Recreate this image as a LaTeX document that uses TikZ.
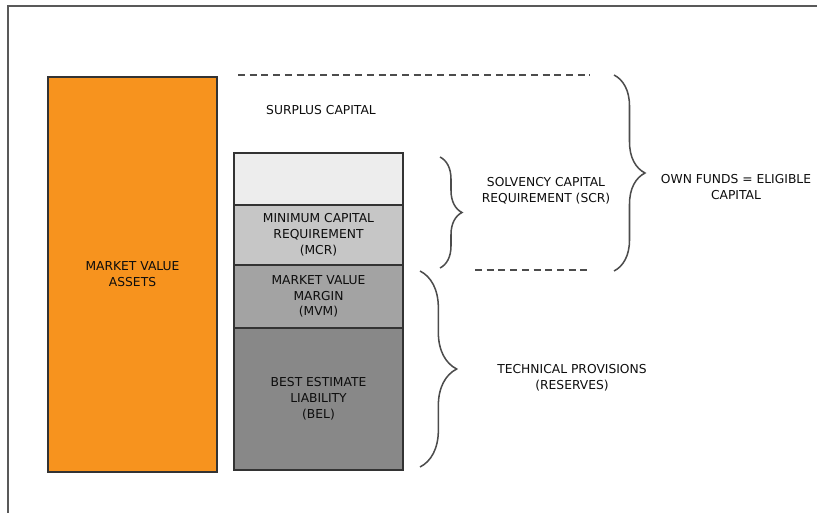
\documentclass[tikz,border=0pt]{standalone}
\usepackage{fontspec}
\setmainfont{DejaVu Sans}
\usetikzlibrary{positioning,decorations.pathreplacing}
\definecolor{assetorange}{HTML}{F7931E}
\definecolor{freegray}{HTML}{EDEDED}
\definecolor{mcrgray}{HTML}{C6C6C6}
\definecolor{mvmgray}{HTML}{A3A3A3}
\definecolor{belgray}{HTML}{888888}
\begin{document}
\begin{tikzpicture}[x=0.03cm,y=-0.03cm,
    txt/.style={font=\fontsize{10.5}{13.5}\selectfont, text=black!95, align=center},
    blk/.style={txt, draw=black!80, line width=1.2pt, outer sep=0pt, minimum width=5.07cm},
    brc/.style={decorate, decoration={brace,amplitude=#1}, line width=1.3pt, gray!60!black},
    dsh/.style={line width=1.6pt, gray!60!black, dash pattern=on 6pt off 4pt}]
  \useasboundingbox (0,0) rectangle (817,513);
  \draw[line width=1.4pt, gray!70!black] (8,513)--(8,6)--(817,6);
  % assets
  \node[blk, fill=assetorange, minimum height=11.85cm, anchor=north west] (mva) at (48,77) {MARKET VALUE\\ASSETS};
  % liabilities column
  \node[blk, fill=freegray, minimum height=1.56cm, anchor=north west] (free) at (234,153) {};
  \node[blk, fill=mcrgray, minimum height=1.8cm, below=0pt of free] (mcr) {MINIMUM CAPITAL\\REQUIREMENT\\(MCR)};
  \node[blk, fill=mvmgray, minimum height=1.89cm, below=0pt of mcr] (mvm) {MARKET VALUE\\MARGIN\\(MVM)};
  \node[blk, fill=belgray, minimum height=4.26cm, below=0pt of mvm] (bel) {BEST ESTIMATE\\LIABILITY\\(BEL)};
  % dashed levels
  \coordinate (topl) at (238,75);
  \coordinate (topr) at (590,75);
  \coordinate (midl) at (475,270);
  \coordinate (midr) at (590,270);
  \draw[dsh] (topl)--(topr);
  \draw[dsh] (midl)--(midr);
  \node[txt] (surplus) at (321,110) {SURPLUS CAPITAL};
  % braces
  \draw[brc=0.66cm] (440,157)--(440,268);
  \draw[brc=0.93cm] (614,75)--(614,271);
  \draw[brc=1.1cm] (420,271)--(420,467);
  \node[txt] (scr) at (546,191) {SOLVENCY CAPITAL\\REQUIREMENT (SCR)};
  \node[txt] (own) at (736,187) {OWN FUNDS = ELIGIBLE\\CAPITAL};
  \node[txt] (tp) at (572,378) {TECHNICAL PROVISIONS\\(RESERVES)};
\end{tikzpicture}
\end{document}
